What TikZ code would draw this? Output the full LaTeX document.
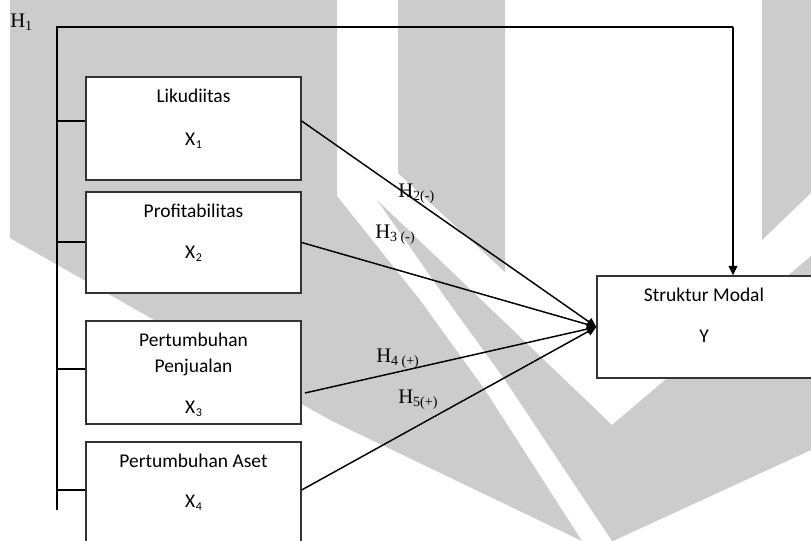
\documentclass[tikz,border=0pt]{standalone}
\usepackage{fontspec}
\setmainfont{Carlito}
\newfontfamily\tnr{Liberation Serif}
\usetikzlibrary{arrows.meta}
\definecolor{wm}{gray}{0.8}
\tikzset{
 box/.style={draw=black!80, line width=1pt, fill=white, minimum width=161.25pt, minimum height=77.25pt, inner sep=0pt},
 lbl/.style={anchor=base, inner sep=0pt, font=\fontsize{14.6}{17}\selectfont},
 hyp/.style={anchor=base west, inner sep=0pt, font=\tnr\fontsize{15.5}{18}\selectfont},
 conn/.style={line width=1.1pt},
 tick/.style={line width=0.9pt},
 arr/.style={conn, -{Triangle[length=7pt,width=6.5pt]}},
}
\newcommand{\xsub}[1]{X\kern0.5pt\raisebox{-0.25ex}{\fontsize{9}{9}\selectfont #1}}
\newcommand{\hsub}[1]{\raisebox{-0.3ex}{\fontsize{10.5}{10.5}\selectfont #1}}
\begin{document}
\begin{tikzpicture}[x=0.75pt,y=-0.75pt]
\useasboundingbox (0,0) rectangle (811,541);
\clip (0,0) rectangle (811,541);
% watermark
\fill[wm] (10,0) -- (337,0) -- (337,196) -- (420,300) -- (485,390) -- (582,541) -- (330,420) -- (10,238) -- cycle;
\fill[wm] (398,0) -- (505,0) -- (505,272) -- (398,173) -- cycle;
\fill[wm] (377,200) -- (612,425) -- (811,256) -- (811,450) -- (613,541) -- (612,541) -- (505,380) -- (447,300) -- cycle;
\fill[wm] (762,0) -- (811,0) -- (811,193) -- (762,240) -- cycle;
% boxes
\node[box] (b1) at (193.5,128.5) {};
\node[box, minimum height=75.75pt] (b2) at (193.5,242.5) {};
\node[box] (b3) at (193.5,372.5) {};
\node[box] (b4) at (193.5,493.5) {};
\node[box, minimum width=162pt, minimum height=76.5pt] (y) at (705,327) {};
% bus
\coordinate (top) at (57,27);
\coordinate (bot) at (57,510);
\coordinate (corner) at (733,27);
\coordinate (k1) at (57,121);
\coordinate (k2) at (57,242);
\coordinate (k3) at (57,369);
\coordinate (k4) at (57,490);
\coordinate (s3) at (305,393);
\draw[conn] (bot) -- (top) -- (corner);
\draw[arr] (corner) -- (corner |- y.north);
\draw[tick] (k1) -- (k1 -| b1.west);
\draw[tick] (k2) -- (k2 -| b2.west);
\draw[tick] (k3) -- (k3 -| b3.west);
\draw[tick] (k4) -- (k4 -| b4.west);
% hypotheses arrows
\draw[arr] (k1 -| b1.east) -- (y.west);
\draw[arr] (b2.east) -- (y.west);
\draw[arr] (s3) -- (y.west);
\draw[arr] (k4 -| b4.east) -- (y.west);
% texts
\node[lbl] (t1) at (193.5,103) {Likudiitas};
\node[lbl] (x1) at (193.5,146) {\xsub{1}};
\node[lbl] (t2) at (193.5,218) {Profitabilitas};
\node[lbl] (x2) at (193.5,259) {\xsub{2}};
\node[lbl] (t3a) at (193.5,347) {Pertumbuhan};
\node[lbl] (t3b) at (193.5,373) {Penjualan};
\node[lbl] (x3) at (193.5,414) {\xsub{3}};
\node[lbl] (t4) at (193.5,468) {Pertumbuhan Aset};
\node[lbl] (x4) at (193.5,508) {\xsub{4}};
\node[lbl] (ty) at (704,302) {Struktur Modal};
\node[lbl] (yy) at (704,343) {Y};
\node[hyp] (h1) at (10,28) {H\hsub{1}};
\node[hyp] (h2) at (398,198) {H\hsub{2(-)}};
\node[hyp] (h3) at (375,239) {H\hsub{3 (-)}};
\node[hyp] (h4) at (376,363) {H\hsub{4 (+)}};
\node[hyp] (h5) at (398,404) {H\hsub{5(+)}};
\end{tikzpicture}
\end{document}
